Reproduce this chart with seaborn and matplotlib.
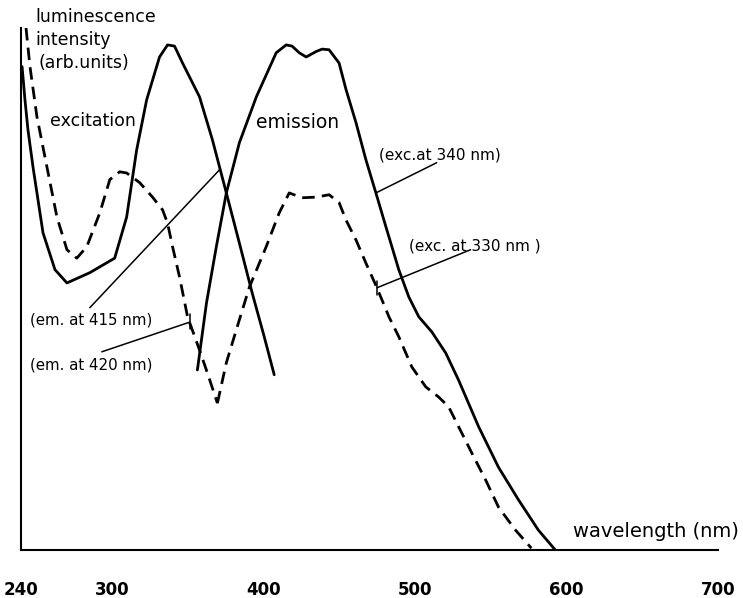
import matplotlib
matplotlib.use("Agg")
import matplotlib.pyplot as plt
import seaborn as sns
import pandas as pd

# excitation spectra (monitored at 415 nm solid, 420 nm dashed)
exc_solid_wl = [240.7, 242.6, 244.6, 247.9, 254.5, 262.4, 270.3, 285.4, 301.8, 309.7,
                316.3, 322.9, 331.4, 336.7, 341.3, 346.6, 357.8, 366.3, 375.5, 384.1,
                392.6, 400.5, 407.1]
exc_solid_int = [8.00, 7.45, 6.95, 6.34, 5.25, 4.64, 4.42, 4.59, 4.83, 5.51,
                 6.62, 7.45, 8.16, 8.36, 8.34, 8.06, 7.50, 6.79, 5.91, 5.08,
                 4.25, 3.53, 2.90]

exc_dash_wl = [243.3, 245.9, 250.5, 257.1, 263.7, 270.3, 276.8, 283.4, 292.0, 298.6,
               305.1, 309.7, 318.3, 326.8, 333.4, 336.7, 340.0, 344.6, 349.9, 357.8,
               363.0, 369.6]
exc_dash_int = [8.64, 8.00, 7.17, 6.34, 5.51, 4.97, 4.83, 5.02, 5.58, 6.13,
                6.26, 6.24, 6.08, 5.84, 5.63, 5.41, 5.02, 4.52, 3.86, 3.31,
                2.93, 2.43]

# emission spectra (excited at 340 nm solid, 330 nm dashed)
em_solid_wl = [356.4, 362.4, 368.9, 375.5, 384.1, 395.3, 408.4, 415.0, 418.9, 423.6,
               428.2, 434.7, 438.7, 443.3, 449.9, 454.5, 461.1, 467.6, 474.2, 480.8,
               489.3, 495.9, 502.5, 511.1, 520.3, 528.8, 542.0, 555.1, 568.3, 581.4,
               592.6]
em_solid_int = [2.98, 4.09, 5.02, 5.91, 6.74, 7.50, 8.23, 8.36, 8.34, 8.23,
                8.16, 8.25, 8.29, 8.28, 8.06, 7.62, 7.07, 6.46, 5.91, 5.35,
                4.64, 4.19, 3.86, 3.61, 3.26, 2.81, 2.04, 1.37, 0.83, 0.33,
                0.0]

em_dash_wl = [369.6, 375.5, 384.1, 390.7, 401.8, 410.4, 417.0, 425.5, 434.7, 443.3,
              449.9, 454.5, 461.1, 467.6, 474.9, 482.8, 489.3, 497.9, 507.1, 515.7,
              522.2, 528.8, 537.4, 546.6, 555.1, 566.3, 576.8]
em_dash_int = [2.43, 3.10, 3.81, 4.35, 5.02, 5.58, 5.91, 5.83, 5.84, 5.88,
               5.75, 5.46, 5.13, 4.75, 4.34, 3.86, 3.53, 3.03, 2.70, 2.53,
               2.37, 2.04, 1.61, 1.16, 0.71, 0.33, 0.03]

x_ticks = [240, 300, 400, 500, 600, 700]
y_ticks = [1, 2, 3, 4, 5, 6, 7, 8]

sns.set_theme(style="white")
plt.rcParams["font.family"] = ["DejaVu Sans"]

fig = plt.figure(figsize=(7.43, 5.98), dpi=100)
ax = fig.add_axes([0.0283, 0.0803, 0.9381, 0.8729])

dash = (0, (4.5, 2.6))
curves = [
    (exc_solid_wl, exc_solid_int, "-"),
    (em_solid_wl, em_solid_int, "-"),
    (exc_dash_wl, exc_dash_int, dash),
    (em_dash_wl, em_dash_int, dash),
]
for wl, inten, ls in curves:
    df = pd.DataFrame({"wl": wl, "I": inten})
    sns.lineplot(data=df, x="wl", y="I", ax=ax, sort=False, estimator=None,
                 color="black", linewidth=2.0, linestyle=ls,
                 solid_joinstyle="round", solid_capstyle="round")

# leader lines to the labels
leaders = [
    ([474.2, 514.3], [5.91, 6.41]),
    ([474.9, 536.7], [4.34, 4.97]),
    ([285.4, 370.9], [4.01, 6.29]),
    ([293.3, 351.2], [3.28, 3.77]),
]
for lx, ly in leaders:
    ax.plot(lx, ly, color="black", linewidth=1.1)
# small end ticks
ax.plot([474.9, 474.9], [4.22, 4.46], color="black", linewidth=1.1)
ax.plot([351.2, 351.2], [3.65, 3.90], color="black", linewidth=1.1)

txt = dict(color="black", fontsize=12.5, clip_on=False, va="center", ha="left")
ax.text(249.2, 8.82, "luminescence", **txt)
ax.text(249.2, 8.44, "intensity", **txt)
ax.text(251.8, 8.06, "(arb.units)", **txt)
ax.text(259.1, 7.10, "excitation", **dict(txt, fontsize=12.5))
ax.text(395.3, 7.07, "emission", **dict(txt, fontsize=13.5))
ax.text(476.2, 6.54, "(exc.at 340 nm)", **dict(txt, fontsize=11))
ax.text(495.9, 5.03, "(exc. at 330 nm )", **dict(txt, fontsize=11))
ax.text(245.9, 3.81, "(em. at 415 nm)", **dict(txt, fontsize=10.8))
ax.text(245.9, 3.06, "(em. at 420 nm)", **dict(txt, fontsize=10.8))
ax.text(604.5, 0.30, "wavelength (nm)", **dict(txt, fontsize=14))

ax.set_xlim(240, 700)
ax.set_ylim(0, 8.64)
ax.set_xticks(x_ticks)
ax.set_yticks(y_ticks)
ax.set_yticklabels([])
ax.set_xlabel("")
ax.set_ylabel("")
for side in ["top", "right"]:
    ax.spines[side].set_visible(False)
for side in ["left", "bottom"]:
    ax.spines[side].set_color("black")
    ax.spines[side].set_linewidth(1.5)
ax.tick_params(axis="x", direction="out", length=4, width=1.2, pad=18,
               labelsize=12, colors="black")
for lbl in ax.get_xticklabels():
    lbl.set_fontweight("bold")
ax.tick_params(axis="y", direction="out", length=3, width=1.0, colors="black")
ax.grid(False)
ax.patch.set_alpha(0)

fig.savefig("out.png", dpi=100)
